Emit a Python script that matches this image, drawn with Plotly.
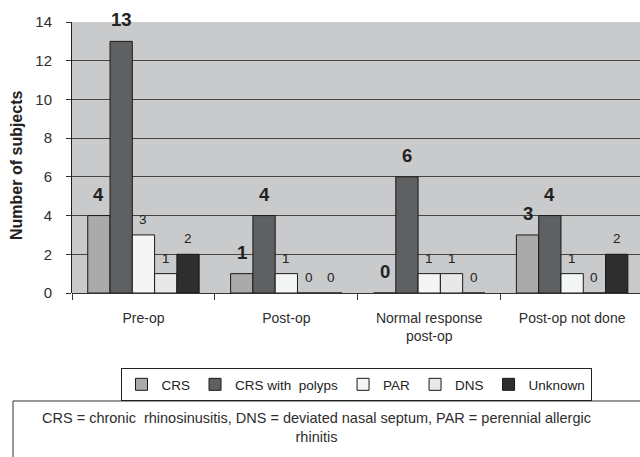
import plotly.graph_objects as go

# Categories and counts per diagnosis group
categories = ["Pre-op", "Post-op", "Normal response<br>post-op", "Post-op not done"]
series_names = ["CRS", "CRS with  polyps", "PAR", "DNS", "Unknown"]
crs = [4, 1, 0, 3]
crs_polyps = [13, 4, 6, 4]
par = [3, 1, 1, 1]
dns = [1, 0, 1, 0]
unknown = [2, 0, 0, 2]
y_ticks = [0, 2, 4, 6, 8, 10, 12, 14]

series_values = [crs, crs_polyps, par, dns, unknown]
series_colors = ["#aaaaaa", "#5f6062", "#f4f5f5", "#e8e8e9", "#2e2e2f"]
bold_label = [True, True, False, False, False]

FONT = "Arial, Liberation Sans, sans-serif"
TEXT = "#2e2e2e"
BARGAP = 0.22

fig = go.Figure()
for name, vals, col in zip(series_names, series_values, series_colors):
    fig.add_trace(go.Bar(
        name=name, x=categories, y=vals,
        marker=dict(color=col, line=dict(color="#1a1a1a", width=1)),
    ))

# Value labels above each bar
n = len(series_names)
slot = (1 - BARGAP) / n
annotations = []
for i, (vals, bold) in enumerate(zip(series_values, bold_label)):
    offset = (i - (n - 1) / 2) * slot
    for ci, v in enumerate(vals):
        annotations.append(dict(
            x=ci + offset, y=v, xref="x", yref="y",
            text=f"<b>{v}</b>" if bold else str(v),
            showarrow=False, yanchor="bottom",
            yshift=9 if bold else 6,
            font=dict(family=FONT, size=18.5 if bold else 13.5, color="#222222"),
        ))

# Axis title
annotations.append(dict(
    x=-0.098, y=0.47, xref="paper", yref="paper", xanchor="center", yanchor="middle",
    text="<b>Number of subjects</b>", textangle=-90, showarrow=False,
    font=dict(family=FONT, size=16, color="#222222"),
))

# Footnote with abbreviations
annotations.append(dict(
    x=0.4296, y=-0.425, xref="paper", yref="paper", xanchor="center", yanchor="top",
    text="CRS = chronic  rhinosinusitis, DNS = deviated nasal septum, PAR = perennial allergic<br>rhinitis",
    showarrow=False, align="center",
    font=dict(family=FONT, size=14.5, color=TEXT),
))

fig.update_layout(
    width=640, height=457,
    margin=dict(l=72, r=0, t=22, b=164),
    paper_bgcolor="white",
    plot_bgcolor="#c9cacc",
    barmode="group", bargap=BARGAP, bargroupgap=0,
    font=dict(family=FONT, size=14, color=TEXT),
    showlegend=True,
    legend=dict(
        orientation="h", x=0.5, xanchor="center", y=-0.277, yanchor="top",
        bordercolor="#222222", borderwidth=1, bgcolor="white",
        font=dict(family=FONT, size=13.5, color="#222222"),
        itemwidth=30, traceorder="normal",
    ),
    annotations=annotations,
    shapes=[dict(
        type="rect", xref="paper", yref="paper",
        x0=-0.1039, x1=1.05, y0=-0.75, y1=-0.3985,
        line=dict(color="#333333", width=1), fillcolor="rgba(0,0,0,0)", layer="above",
    )],
)

fig.update_xaxes(
    type="category", range=[-0.5, 3.475],
    showgrid=False, ticks="outside", tickson="boundaries", ticklen=6,
    tickcolor="#333333", showline=False, ticklabelstandoff=15,
    tickfont=dict(family=FONT, size=14, color=TEXT),
)
fig.update_yaxes(
    range=[0, 14], tickvals=y_ticks, showgrid=True, gridcolor="#444444", gridwidth=1,
    zeroline=True, zerolinecolor="#333333", zerolinewidth=1,
    showline=True, linecolor="#222222", linewidth=1,
    ticks="outside", ticklen=5, tickcolor="#333333", ticklabelstandoff=11,
    tickfont=dict(family=FONT, size=15, color=TEXT),
)

fig.write_html("out.html")
